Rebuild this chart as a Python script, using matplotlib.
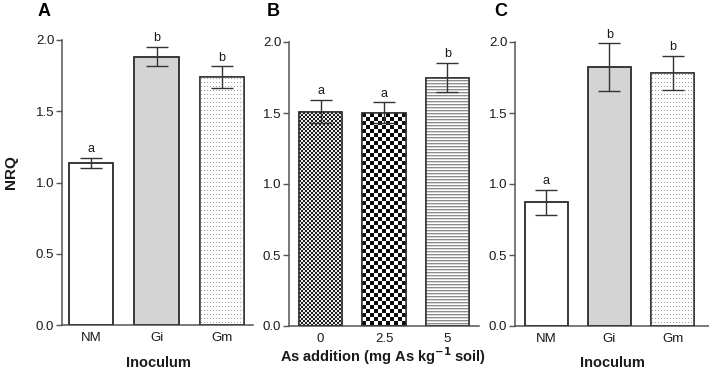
import numpy as np
import matplotlib
matplotlib.use("Agg")
import matplotlib.pyplot as plt

plt.rcParams['font.family'] = ['Liberation Sans', 'DejaVu Sans']

# ---- data ----
inoc_cats = ["NM", "Gi", "Gm"]
a_vals = [1.135, 1.883, 1.738]
a_err = [0.035, 0.068, 0.077]
a_letters = ["a", "b", "b"]

as_cats = ["0", "2.5", "5"]
b_vals = [1.510, 1.503, 1.750]
b_err = [0.080, 0.072, 0.100]
b_letters = ["a", "a", "b"]

c_vals = [0.872, 1.822, 1.782]
c_err = [0.088, 0.168, 0.120]
c_letters = ["a", "b", "b"]

W, H = 709, 373
fig = plt.figure(figsize=(W / 100, H / 100), dpi=100)

EDGE = "#333333"
SPINE = "#555555"
TXT = "#1a1a1a"


def ax_at(l, r, t, b):
    return fig.add_axes([l / W, 1 - b / H, (r - l) / W, (b - t) / H])


def pattern(kind, nx, ny):
    img = np.ones((ny, nx, 3))
    yy, xx = np.mgrid[0:ny, 0:nx]
    if kind == "fine_checker":
        m = ((xx // 2) + (yy // 2)) % 2 == 0
        img[m] = 0.12
        img[~m] = 0.92
    elif kind == "coarse_checker":
        m = ((xx // 4) + (yy // 4)) % 2 == 0
        img[m] = 0.05
        img[~m] = 1.0
    elif kind == "hstripes":
        m = (yy % 3) == 0
        img[m] = 0.55
        m2 = (yy % 3) == 1
        img[m2] = 0.85
    elif kind == "dots":
        m = ((xx % 3) == 1) & ((yy % 4) == 1)
        img[m] = 0.62
    return img


def draw_panel(ax, cats, vals, errs, letters, fills, xlim):
    x = np.arange(len(cats))
    ax.set_xlim(*xlim)
    ax.set_ylim(0, 2.0)
    facecolors = ["#d4d4d4" if f == "grey" else "white" for f in fills]
    bars = ax.bar(x, vals, width=0.68, color=facecolors, edgecolor=EDGE,
                  linewidth=1.1, zorder=2)
    inv = ax.transData.inverted()
    for bar, f in zip(bars, fills):
        if f in ("white", "grey"):
            continue
        x0, y0 = bar.get_x(), 0
        x1, y1 = x0 + bar.get_width(), bar.get_height()
        p0 = np.round(ax.transData.transform((x0, y0)))
        p1 = np.round(ax.transData.transform((x1, y1)))
        nx = max(int(p1[0] - p0[0]), 2)
        ny = max(int(p1[1] - p0[1]), 2)
        d0 = inv.transform(p0)
        d1 = inv.transform(p1)
        im = ax.imshow(pattern(f, nx, ny),
                       extent=(d0[0], d1[0], d0[1], d1[1]),
                       interpolation="nearest", aspect="auto", zorder=2.5,
                       origin="upper")
        im.set_clip_path(bar)
    ax.bar(x, vals, width=0.68, fill=False, edgecolor=EDGE, linewidth=1.1,
           zorder=3)
    ax.errorbar(x, vals, yerr=errs, fmt="none", ecolor=EDGE, elinewidth=1.0,
                capsize=8, capthick=1.0, zorder=4, clip_on=False)
    for xi, v, e, l in zip(x, vals, errs, letters):
        ax.text(xi, v + e + 0.02, l, ha="center", va="bottom", fontsize=9,
                color=TXT)
    ax.set_ylim(0, 2.0)
    ax.set_xlim(*xlim)
    ax.set_xticks(x)
    ax.set_xticklabels(cats, fontsize=9.5, color=TXT)
    ax.set_yticks([0, 0.5, 1.0, 1.5, 2.0])
    ax.set_yticklabels(["0.0", "0.5", "1.0", "1.5", "2.0"], fontsize=9.5,
                       color=TXT)
    ax.tick_params(axis="x", length=0, pad=5)
    ax.tick_params(axis="y", length=4, width=1.0, color=SPINE, pad=1.5)
    for s in ("top", "right"):
        ax.spines[s].set_visible(False)
    for s in ("left", "bottom"):
        ax.spines[s].set_color(SPINE)
        ax.spines[s].set_linewidth(1.1)
    ax.set_facecolor("none")


axA = ax_at(62, 253, 40, 325)
draw_panel(axA, inoc_cats, a_vals, a_err, a_letters,
           ["white", "grey", "dots"], (-0.44, 2.47))

axB = ax_at(289, 479, 42, 326)
draw_panel(axB, as_cats, b_vals, b_err, b_letters,
           ["fine_checker", "coarse_checker", "hstripes"], (-0.5, 2.5))

axC = ax_at(515, 709, 42, 326)
draw_panel(axC, inoc_cats, c_vals, c_err, c_letters,
           ["white", "grey", "dots"], (-0.49, 2.57))


def ftext(px, py, s, **kw):
    fig.text(px / W, 1 - py / H, s, **kw)


ftext(158, 363, "Inoculum", fontsize=10.5, fontweight="bold", ha="center",
      va="center", color=TXT)
ftext(612, 363, "Inoculum", fontsize=10.5, fontweight="bold", ha="center",
      va="center", color=TXT)
ftext(383, 356, "As addition (mg As kg$^{\\mathbf{-1}}$ soil)", fontsize=10.5,
      fontweight="bold", ha="center", va="center", color=TXT)
ftext(11, 172, "NRQ", fontsize=11, fontweight="bold", ha="center",
      va="center", rotation=90, color=TXT)

for lab, px in (("A", 38), ("B", 267), ("C", 494)):
    ftext(px, 12, lab, fontsize=13, fontweight="bold", va="center",
          ha="left", color="black")

fig.savefig("out.png", dpi=100)
